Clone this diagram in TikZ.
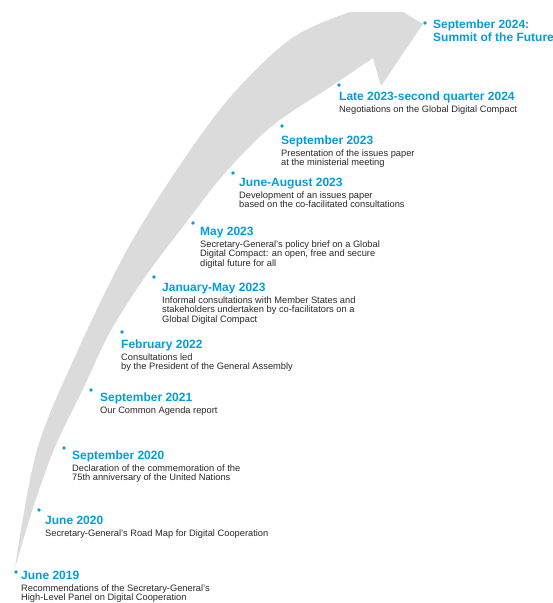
\documentclass[tikz,border=0pt]{standalone}
\usepackage{fontspec}
\setmainfont{Liberation Sans}
\definecolor{unblue}{RGB}{0,158,219}
\definecolor{arrowgray}{RGB}{219,219,219}
\definecolor{captiongray}{RGB}{40,40,40}

\begin{document}
\begin{tikzpicture}[x=1pt,y=-1pt,
    milestone/.style={circle,fill=unblue,inner sep=0,minimum size=3.6pt},
    heading/.style={anchor=base west,inner sep=0,text=unblue,align=left,
        font=\fontsize{12}{11}\selectfont\bfseries},
    caption/.style={anchor=north west,inner sep=0,text=captiongray,align=left,
        font=\fontsize{9.3}{9.5}\selectfont}]
    \pgfmathsetmacro{\captiondrop}{5.2} % heading baseline to top of caption
    \useasboundingbox (0,0) rectangle (553,603);
    % the curved arrow behind the timeline
    \fill[arrowgray] (15,568)
        -- plot[smooth,tension=0.55] coordinates {(15,568) (37,450) (78,350) (127,250) (180,165) (232,95) (292,38) (350,12)}
        -- (403,12) -- (423,24) -- (381,86) -- (373,58)
        -- plot[smooth,tension=0.55] coordinates {(373,58) (330,87) (272,126) (225,173) (185,224) (145,277) (110,332) (83,389) (55,447) (33,508) (15,568)}
        -- cycle;
    % milestones
    \node[milestone] (dot1) at (16,572) {};
    \node[heading] (head1) at (21,579) {June 2019};
    \node[caption] (desc1) at ([yshift=-\captiondrop pt]head1.base west) {Recommendations of the Secretary-General’s\\High-Level Panel on Digital Cooperation};
    \node[milestone] (dot2) at (39,510) {};
    \node[heading] (head2) at (45,524) {June 2020};
    \node[caption] (desc2) at ([yshift=-\captiondrop pt]head2.base west) {Secretary-General’s Road Map for Digital Cooperation};
    \node[milestone] (dot3) at (64,448) {};
    \node[heading] (head3) at (72,459) {September 2020};
    \node[caption] (desc3) at ([yshift=-\captiondrop pt]head3.base west) {Declaration of the commemoration of the\\75th anniversary of the United Nations};
    \node[milestone] (dot4) at (91,390) {};
    \node[heading] (head4) at (100,401) {September 2021};
    \node[caption] (desc4) at ([yshift=-\captiondrop pt]head4.base west) {Our Common Agenda report};
    \node[milestone] (dot5) at (122,332) {};
    \node[heading] (head5) at (121,348) {February 2022};
    \node[caption] (desc5) at ([yshift=-\captiondrop pt]head5.base west) {Consultations led\\by the President of the General Assembly};
    \node[milestone] (dot6) at (154,277) {};
    \node[heading] (head6) at (162,291) {January-May 2023};
    \node[caption] (desc6) at ([yshift=-\captiondrop pt]head6.base west) {Informal consultations with Member States and\\stakeholders undertaken by co-facilitators on a\\Global Digital Compact};
    \node[milestone] (dot7) at (193,223) {};
    \node[heading] (head7) at (200,235) {May 2023};
    \node[caption] (desc7) at ([yshift=-\captiondrop pt]head7.base west) {Secretary-General’s policy brief on a Global\\Digital Compact: an open, free and secure\\digital future for all};
    \node[milestone] (dot8) at (233,173) {};
    \node[heading] (head8) at (239,186) {June-August 2023};
    \node[caption] (desc8) at ([yshift=-\captiondrop pt]head8.base west) {Development of an issues paper\\based on the co-facilitated consultations};
    \node[milestone] (dot9) at (282,126) {};
    \node[heading] (head9) at (281,144) {September 2023};
    \node[caption] (desc9) at ([yshift=-\captiondrop pt]head9.base west) {Presentation of the issues paper\\at the ministerial meeting};
    \node[milestone] (dot10) at (339,85) {};
    \node[heading] (head10) at (339,100) {Late 2023-second quarter 2024};
    \node[caption] (desc10) at ([yshift=-\captiondrop pt]head10.base west) {Negotiations on the Global Digital Compact};
    \node[milestone] (dot11) at (425,23) {};
    \node[heading] (head11) at (433,41) {September 2024:\\Summit of the Future}; % two lines, base on the second
\end{tikzpicture}
\end{document}
